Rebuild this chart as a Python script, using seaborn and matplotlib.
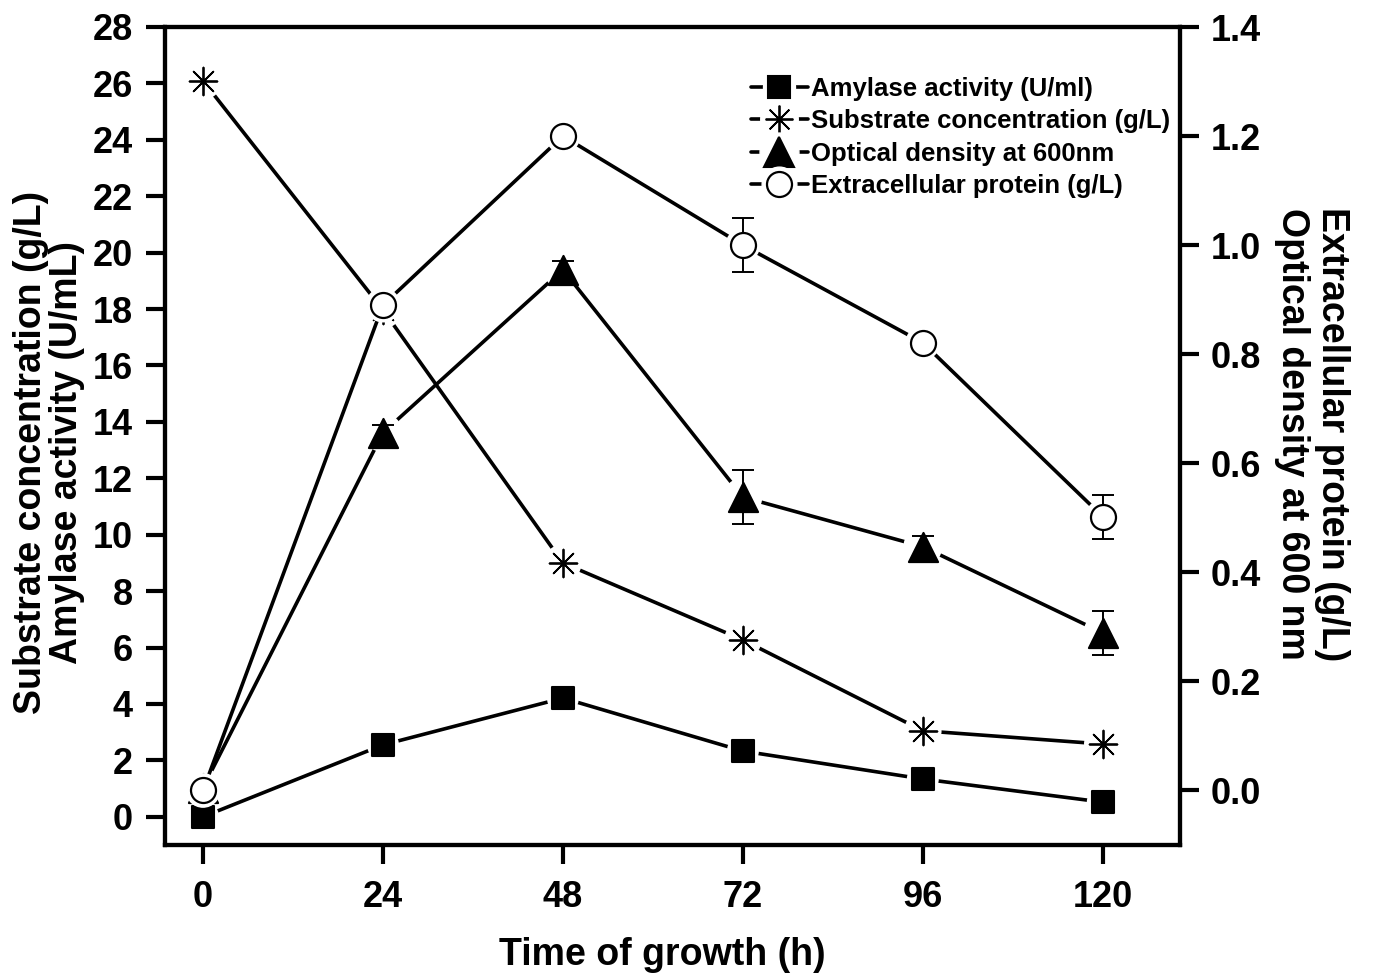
import matplotlib
matplotlib.use("Agg")
import numpy as np
import pandas as pd
import seaborn as sns
import matplotlib.pyplot as plt
from matplotlib.lines import Line2D
from matplotlib.legend_handler import HandlerTuple

# ---------------- data ----------------
time_h = [0, 24, 48, 72, 96, 120]
amylase = [0.0, 2.55, 4.21, 2.33, 1.34, 0.52]          # U/ml (left axis)
substrate = [26.09, 17.97, 9.0, 6.27, 3.05, 2.58]      # g/L (left axis)
od600 = [0.005, 0.656, 0.955, 0.538, 0.447, 0.289]     # right axis
od600_err = [0.0, 0.015, 0.015, 0.05, 0.02, 0.04]
protein = [0.0, 0.89, 1.20, 1.00, 0.821, 0.502]        # g/L (right axis)
protein_err = [0.0, 0.0, 0.0, 0.05, 0.0, 0.04]

left_ticks = list(range(0, 29, 2))
right_ticks = [0.0, 0.2, 0.4, 0.6, 0.8, 1.0, 1.2, 1.4]

labels = ["Amylase activity (U/ml)", "Substrate concentration (g/L)",
          "Optical density at 600nm", "Extracellular protein (g/L)"]

# ---------------- style ----------------
sns.set_theme(style="ticks")
plt.rcParams.update({
    "font.family": ["Liberation Sans", "DejaVu Sans"],
    "font.weight": "bold",
    "axes.labelweight": "bold",
    "axes.linewidth": 3,
    "axes.edgecolor": "black",
    "axes.labelcolor": "black",
    "text.color": "black",
    "xtick.color": "black",
    "ytick.color": "black",
    "xtick.labelcolor": "black",
    "ytick.labelcolor": "black",
})

W, H = 1377, 980
fig = plt.figure(figsize=(W / 100, H / 100), dpi=100)
ax = fig.add_axes([165 / W, (H - 845) / H, (1180 - 165) / W, (845 - 27) / H])
ax2 = ax.twinx()

LW = 2.6
GAP = 7  # pt halo around markers


def draw(axis, y, marker, ms, face, z, yerr=None, mew=1.5):
    df = pd.DataFrame({"t": time_h, "v": y})
    sns.lineplot(data=df, x="t", y="v", ax=axis, color="black", lw=LW,
                 zorder=z, legend=False)
    # white halo that makes the gap between line and marker
    sns.scatterplot(data=df, x="t", y="v", ax=axis, marker="o",
                    s=(ms + GAP) ** 2, color="white", edgecolor="none",
                    linewidth=0, zorder=z + 0.1, legend=False)
    if yerr is not None:
        axis.errorbar(time_h, y, yerr=yerr, fmt="none", ecolor="black",
                      elinewidth=1.4, capsize=8, capthick=1.4, zorder=z + 0.2)
    if face == "none":
        sns.scatterplot(data=df, x="t", y="v", ax=axis, marker=marker,
                        s=ms ** 2, color="black", linewidth=mew,
                        zorder=z + 0.3, legend=False)
    else:
        sns.scatterplot(data=df, x="t", y="v", ax=axis, marker=marker,
                        s=ms ** 2, facecolor=face, edgecolor="black",
                        linewidth=mew, zorder=z + 0.3, legend=False)


draw(ax, amylase, "s", 16, "black", 2)
draw(ax, substrate, (8, 2, 0), 20, "none", 3, mew=1.3)
draw(ax2, od600, "^", 21, "black", 2, yerr=od600_err)
draw(ax2, protein, "o", 18, "white", 3, yerr=protein_err, mew=1.6)

# ---------------- axes ----------------
ax.set_xlim(-5.07, 130.3)
ax.set_ylim(-1, 28)
ax2.set_ylim(-0.1, 1.4)
ax.set_xticks(time_h)
ax.set_yticks(left_ticks)
ax2.set_yticks(right_ticks)
ax2.set_yticklabels([f"{v:.1f}" for v in right_ticks])
ax.set_xlabel("")
ax.set_ylabel("")
ax2.set_ylabel("")

ax.tick_params(axis="both", direction="out", length=14, width=3,
               labelsize=26, pad=9, colors="black")
ax.tick_params(axis="x", pad=11)
ax2.tick_params(axis="y", direction="out", length=14, width=3,
                labelsize=26, pad=8, colors="black")
for a in (ax, ax2):
    for sp in a.spines.values():
        sp.set_visible(True)
        sp.set_linewidth(3)
        sp.set_color("black")

ax.set_xlabel("Time of growth (h)", fontsize=27, fontweight="bold",
              color="black")
ax.xaxis.set_label_coords(0.49, -0.112)

fig.text(49 / W, 1 - 452 / H,
         "Substrate concentration (g/L)\nAmylase activity (U/mL)",
         rotation=90, ha="center", va="center", fontsize=27,
         fontweight="bold", linespacing=1.0, multialignment="center",
         color="black")
fig.text(1312 / W, 1 - 434 / H,
         "Extracellular protein (g/L)\nOptical density at 600 nm",
         rotation=270, ha="center", va="center", fontsize=27,
         fontweight="bold", linespacing=1.15, multialignment="center",
         color="black")

# ---------------- legend ----------------
def handle(marker, ms, face, mew=1.5):
    line = Line2D([], [], color="black", lw=LW)
    halo = Line2D([], [], ls="none", marker="o", ms=ms + GAP,
                  mfc="white", mec="white")
    if face == "none":
        mk = Line2D([], [], ls="none", marker=marker, ms=ms, color="black",
                    mew=mew)
    else:
        mk = Line2D([], [], ls="none", marker=marker, ms=ms, mfc=face,
                    mec="black", mew=mew)
    return (line, halo, mk)


handles = [handle("s", 16, "black"), handle((8, 2, 0), 20, "none", 1.3),
           handle("^", 21, "black"), handle("o", 18, "white", 1.6)]
leg = ax2.legend(handles, labels, handler_map={tuple: HandlerTuple(ndivide=1)},
                 loc="upper left", bbox_to_anchor=(751 / W, 1 - 77 / H),
                 bbox_transform=fig.transFigure, frameon=False, fontsize=18.5,
                 handlelength=2.2, handletextpad=0.15, labelspacing=0.33,
                 numpoints=1, borderpad=0, borderaxespad=0)
for t in leg.get_texts():
    t.set_fontweight("bold")
    t.set_color("black")

fig.savefig("out.png", dpi=100)
